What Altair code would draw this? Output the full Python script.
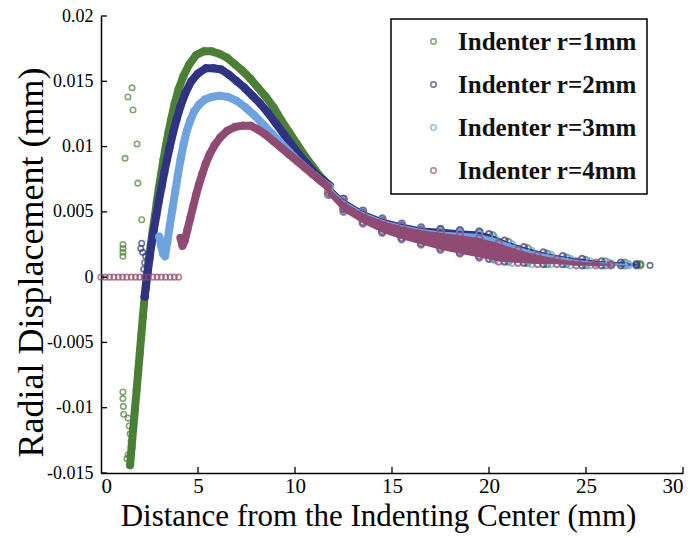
import altair as alt
import pandas as pd

labels = ["Indenter r=1mm", "Indenter r=2mm", "Indenter r=3mm", "Indenter r=4mm"]
colors = ["#4b7f36", "#2f3382", "#6fa3df", "#8f4b73"]

x_ticks = [0, 5, 10, 15, 20, 25, 30]
y_ticks = [-0.015, -0.01, -0.005, 0, 0.005, 0.01, 0.015, 0.02]

# r = 1 mm (green): main band and tail band
g_x = [1.50, 1.58, 1.66, 1.75, 1.84, 1.92, 2.00, 2.08, 2.16, 2.25, 2.35, 2.45, 2.56, 2.67, 2.78,
       2.88, 2.98, 3.10, 3.22, 3.35, 3.48, 3.62, 3.80, 4.00, 4.25, 4.55, 4.90, 5.30, 5.70, 6.10,
       6.50, 6.90, 7.30, 7.70, 8.10, 8.50, 8.90, 9.30, 9.70, 10.1, 10.5, 10.9, 11.3, 11.7]
g_y = [-0.0144, -0.0130, -0.0116, -0.0101, -0.0086, -0.0072, -0.0058, -0.0044, -0.0030, -0.0015,
       0.0000, 0.0012, 0.0024, 0.0036, 0.0047, 0.0058, 0.0068, 0.0079, 0.0090, 0.0101,
       0.0111, 0.0121, 0.0133, 0.0144, 0.0154, 0.0163, 0.0170, 0.0173, 0.0173, 0.0171,
       0.0168, 0.0163, 0.0158, 0.0152, 0.0145, 0.0138, 0.0130, 0.0120, 0.0111, 0.0102,
       0.0093, 0.0085, 0.0077, 0.0071]
g_tx = [11.7, 12.5, 13.5, 14.5, 15.5, 16.5, 17.5, 18.5, 19.5, 20.2, 21.0, 22.0, 23.0, 24.0, 25.0, 26.0, 27.0, 27.8]
g_thi = [0.0071, 0.0060, 0.0050, 0.0044, 0.0040, 0.0037, 0.0036, 0.0035, 0.0034, 0.0032, 0.0027, 0.0022,
         0.0018, 0.0015, 0.0013, 0.0012, 0.0011, 0.0010]
g_tlo = [0.0065, 0.0052, 0.0042, 0.0035, 0.0030, 0.0026, 0.0022, 0.0019, 0.0016, 0.0014, 0.0012, 0.0011,
         0.0010, 0.0010, 0.0009, 0.0009, 0.0009, 0.0009]
g_sx = [1.60, 1.39, 1.65, 1.86, 1.24, 1.90, 2.10, 1.13, 1.13, 1.13, 1.13,
        1.13, 1.13, 1.15, 1.17, 1.40, 1.45, 1.50, 1.55, 1.34, 1.40]
g_sy = [0.0145, 0.0138, 0.0128, 0.0102, 0.0091, 0.0072, 0.0044, 0.0016, 0.0019, 0.0022, 0.0025,
        -0.0088, -0.0093, -0.0099, -0.0105, -0.0108, -0.0114, -0.0120, -0.0126, -0.0139, -0.0136]

# r = 2 mm (dark blue)
b_x = [2.25, 2.32, 2.40, 2.50, 2.60, 2.72, 2.85, 2.98, 3.12, 3.26, 3.40, 3.55, 3.72, 3.90, 4.10,
       4.35, 4.65, 5.00, 5.40, 5.80, 6.20, 6.60, 7.00, 7.40, 7.80, 8.20, 8.60, 9.00, 9.40, 9.80,
       10.2, 10.6, 11.0, 11.4, 11.8]
b_y = [-0.0015, -0.0007, 0.0003, 0.0014, 0.0025, 0.0036, 0.0047, 0.0058, 0.0069, 0.0080,
       0.0090, 0.0100, 0.0111, 0.0121, 0.0131, 0.0141, 0.0150, 0.0156, 0.0160, 0.0160,
       0.0159, 0.0155, 0.0150, 0.0145, 0.0139, 0.0133, 0.0126, 0.0118, 0.0110, 0.0102,
       0.0094, 0.0087, 0.0080, 0.0075, 0.0070]
b_tx = [11.8, 12.5, 13.5, 14.5, 15.5, 16.5, 17.5, 18.5, 19.5, 20.0, 20.8, 21.8, 22.8, 23.8, 24.8, 25.8, 26.8, 27.6]
b_thi = [0.0070, 0.0060, 0.0051, 0.0045, 0.0041, 0.0038, 0.0037, 0.0036, 0.0035, 0.0033, 0.0028, 0.0023,
         0.0019, 0.0016, 0.0014, 0.0012, 0.0011, 0.0010]
b_tlo = [0.0064, 0.0052, 0.0042, 0.0035, 0.0030, 0.0026, 0.0022, 0.0019, 0.0016, 0.0014, 0.0012, 0.0011,
         0.0010, 0.0010, 0.0009, 0.0009, 0.0009, 0.0009]
b_sx = [2.05, 2.10, 2.15, 2.30, 2.25, 2.20, 28.3]
b_sy = [0.0022, 0.0026, 0.0019, 0.0016, 0.0011, 0.0006, 0.0009]

# r = 3 mm (light blue)
c_x = [3.00, 3.10, 3.20, 3.30, 3.42, 3.55, 3.68, 3.82, 3.96, 4.10, 4.26, 4.42, 4.60, 4.80, 5.05,
       5.35, 5.70, 6.10, 6.55, 7.00, 7.45, 7.90, 8.35, 8.80, 9.25, 9.70, 10.15, 10.6, 11.0, 11.4, 11.8]
c_y = [0.0031, 0.0024, 0.0018, 0.0016, 0.0027, 0.0040, 0.0052, 0.0065, 0.0078, 0.0090,
       0.0102, 0.0112, 0.0120, 0.0127, 0.0132, 0.0136, 0.0138, 0.0139, 0.0138, 0.0135,
       0.0130, 0.0124, 0.0117, 0.0110, 0.0103, 0.0096, 0.0089, 0.0083, 0.0078, 0.0073, 0.0069]
c_tx = [11.8, 12.5, 13.5, 14.5, 15.5, 16.5, 17.5, 18.5, 19.5, 20.3, 21.2, 22.2, 23.2, 24.2, 25.2, 26.2, 27.2]
c_thi = [0.0069, 0.0059, 0.0050, 0.0044, 0.0040, 0.0037, 0.0035, 0.0034, 0.0033, 0.0030, 0.0025, 0.0020,
         0.0017, 0.0014, 0.0012, 0.0011, 0.0010]
c_tlo = [0.0063, 0.0051, 0.0042, 0.0035, 0.0030, 0.0026, 0.0022, 0.0019, 0.0016, 0.0013, 0.0011, 0.0010,
         0.0010, 0.0009, 0.0009, 0.0009, 0.0009]

# r = 4 mm (purple)
p_x = [4.10, 4.20, 4.32, 4.45, 4.60, 4.75, 4.90, 5.05, 5.22, 5.40, 5.60, 5.85, 6.15, 6.50, 6.90,
       7.30, 7.70, 8.10, 8.50, 8.90, 9.30, 9.70, 10.1, 10.5, 10.9, 11.3, 11.7]
p_y = [0.0030, 0.0024, 0.0028, 0.0036, 0.0045, 0.0054, 0.0063, 0.0071, 0.0079, 0.0087,
       0.0094, 0.0101, 0.0107, 0.0112, 0.0115, 0.0116, 0.0116, 0.0113, 0.0109, 0.0104,
       0.0099, 0.0094, 0.0089, 0.0084, 0.0079, 0.0074, 0.0069]
p_tx = [11.7, 12.5, 13.5, 14.5, 15.5, 16.5, 17.5, 18.5, 19.5, 20.5, 21.5, 22.5, 23.5, 24.5, 25.5, 26.3]
p_thi = [0.0069, 0.0058, 0.0049, 0.0043, 0.0039, 0.0036, 0.0034, 0.0032, 0.0030, 0.0026, 0.0021, 0.0017,
         0.0014, 0.0012, 0.0011, 0.0010]
p_tlo = [0.0063, 0.0050, 0.0041, 0.0034, 0.0029, 0.0025, 0.0021, 0.0018, 0.0015, 0.0012, 0.0011, 0.0010,
         0.0010, 0.0009, 0.0009, 0.0009]
zero_x = [0.0, 0.22, 0.44, 0.67, 0.89, 1.11, 1.33, 1.56, 1.78, 2.0, 2.22, 2.44, 2.67, 2.89,
          3.11, 3.33, 3.56, 3.78, 4.0]
zero_y = [0.0] * len(zero_x)

W, H = 582, 457
cscale = alt.Scale(domain=labels, range=colors)
xscale = alt.Scale(domain=[0, 30], nice=False, zero=False)
yscale = alt.Scale(domain=[-0.015, 0.02], nice=False, zero=False)

xaxis = alt.Axis(values=x_ticks, format="d", ticks=False, grid=False, domainColor="black", domainWidth=1.5,
                 labelFont="Liberation Sans Narrow", labelFontSize=21, labelColor="black", labelPadding=2,
                 title="Distance from the Indenting Center (mm)", titleFont="Liberation Serif",
                 titleFontSize=31, titleFontWeight="normal", titleColor="black",
                 titleX=277, titleY=52, titleBaseline="alphabetic", titleAnchor="middle")
yaxis = alt.Axis(values=y_ticks, labelExpr="toString(datum.value)", ticks=False, grid=False,
                 domainColor="black", domainWidth=1.5,
                 labelFont="Liberation Sans Narrow", labelFontSize=18, labelColor="black", labelPadding=8,
                 title="Radial Displacement (mm)", titleFont="Liberation Serif", titleFontSize=36,
                 titleFontWeight="normal", titleColor="black", titleAngle=-90,
                 titleX=-70, titleY=246, titleBaseline="middle", titleAlign="center")

X = alt.X("x:Q", scale=xscale, axis=xaxis)
Y = alt.Y("y:Q", scale=yscale, axis=yaxis)
legend = alt.Legend(title=None, orient="none", legendX=290, legendY=3)
COLOR = alt.Color("s:N", scale=cscale, legend=legend)


def pts(df, size=40, sw=2.0):
    return alt.Chart(df).mark_point(shape="circle", filled=False, size=size, strokeWidth=sw).encode(
        x=X, y=Y, color=COLOR)


def series(label, color, mx, my, tx, thi, tlo):
    main = pd.DataFrame({"x": mx, "y": my, "s": label})
    tail = pd.DataFrame({"x": tx, "y": tlo, "hi": thi, "s": label})
    tail_pts = pd.DataFrame({"x": tx + tx, "y": thi + tlo, "s": label})
    area = alt.Chart(tail).mark_area(color=color).encode(x=X, y=Y, y2="hi:Q")
    line = alt.Chart(main).mark_line(color=color, strokeWidth=8, strokeCap="round",
                                     strokeJoin="round").encode(x=X, y=Y)
    return [area, line, pts(main), pts(tail_pts)]


layers = []
layers += series(labels[0], colors[0], g_x, g_y, g_tx, g_thi, g_tlo)
layers.append(pts(pd.DataFrame({"x": g_sx, "y": g_sy, "s": labels[0]}), size=30, sw=1.6))
layers += series(labels[1], colors[1], b_x, b_y, b_tx, b_thi, b_tlo)
layers.append(pts(pd.DataFrame({"x": b_sx, "y": b_sy, "s": labels[1]}), size=30, sw=1.6))
layers += series(labels[2], colors[2], c_x, c_y, c_tx, c_thi, c_tlo)
layers += series(labels[3], colors[3], p_x, p_y, p_tx, p_thi, p_tlo)
layers.append(pts(pd.DataFrame({"x": zero_x, "y": zero_y, "s": labels[3]}), size=30, sw=1.6))

# inward tick marks
ytick_df = pd.DataFrame({"y": y_ticks})
xtick_df = pd.DataFrame({"x": x_ticks[1:]})
layers.append(alt.Chart(ytick_df).mark_rule(color="black", strokeWidth=1.3).encode(
    y=Y, x=alt.value(0), x2=alt.value(6)))
layers.append(alt.Chart(xtick_df).mark_rule(color="black", strokeWidth=1.3).encode(
    x=X, y=alt.value(H), y2=alt.value(H - 6)))

chart = alt.layer(*layers).properties(
    width=W, height=H,
    autosize=alt.AutoSizeParams(type="none"),
    padding={"left": 101, "top": 16, "right": 15, "bottom": 65},
    background="white",
).configure_view(strokeWidth=0).configure_legend(
    strokeColor="black", strokeWidth=1.5, fillColor="white", padding=10, rowPadding=17,
    symbolOffset=20, labelOffset=12, labelFont="Liberation Serif", labelFontSize=25,
    labelFontWeight="bold", labelColor="#111111", symbolType="circle", symbolSize=30,
    symbolStrokeWidth=1.5, labelLimit=400,
)

chart.save("out.html", embed_options={"renderer": "svg", "actions": False})
